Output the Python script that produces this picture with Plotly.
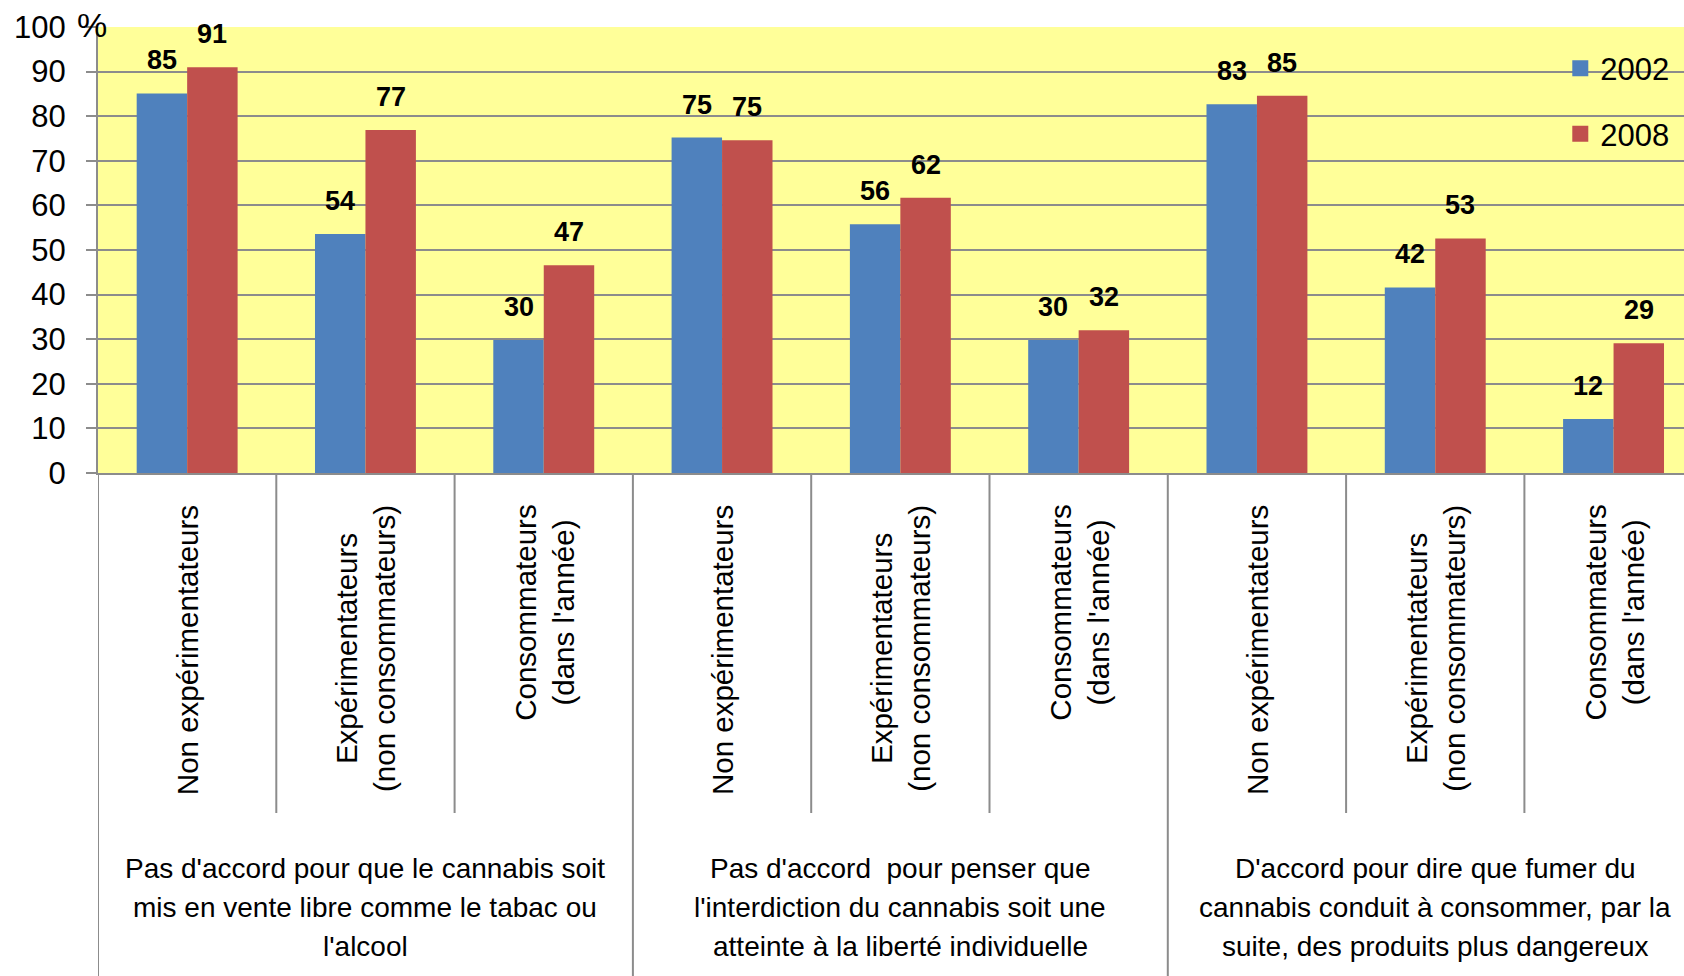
import plotly.graph_objects as go

categories = ["Non expérimentateurs",
              "Expérimentateurs<br>(non consommateurs)",
              "Consommateurs<br>(dans l'année)"] * 3
groups = [["Pas d'accord pour que le cannabis soit", "mis en vente libre comme le tabac ou", "l'alcool"],
          ["Pas d'accord  pour penser que", "l'interdiction du cannabis soit une", "atteinte à la liberté individuelle"],
          ["D'accord pour dire que fumer du", "cannabis conduit à consommer, par la", "suite, des produits plus dangereux"]]
series_names = ["2002", "2008"]
v2002 = [85.1, 53.6, 29.8, 75.2, 55.8, 29.8, 82.7, 41.6, 12.1]
v2008 = [91.0, 76.9, 46.6, 74.6, 61.7, 32.0, 84.6, 52.6, 29.1]
yticks = [0, 10, 20, 30, 40, 50, 60, 70, 80, 90, 100]

colors = ["#4F81BD", "#C0504D"]
FONT = "Liberation Sans, Arial, sans-serif"
GRID = "#8C8C8C"

W, H = 1684, 976
L, R, T, B = 98, 0, 27, 503
plot_h = H - T - B
cat_w = 178.3
x_idx = list(range(len(categories)))

fig = go.Figure()
for name, vals, col in zip(series_names, [v2002, v2008], colors):
    fig.add_trace(go.Bar(x=x_idx, y=vals, name=name, marker_color=col,
                         marker_line_width=0, showlegend=False))
# legend entries (larger square symbols)
for name, col, grp in zip(series_names, colors, ["a", "b"]):
    fig.add_trace(go.Scatter(x=[None], y=[None], mode="markers", name=name, legendgroup=grp,
                             marker=dict(symbol="square", size=18, color=col)))

bar_w = (1 - 0.434) / 2
shift = bar_w * cat_w / 2
annotations = []
for si, vals in enumerate([v2002, v2008]):
    for xi, v in zip(x_idx, vals):
        annotations.append(dict(x=xi, y=v, xref="x", yref="y", text=f"<b>{round(v)}</b>",
                                showarrow=False, yanchor="bottom", xanchor="center",
                                xshift=(-shift if si == 0 else shift), yshift=16,
                                font=dict(family=FONT, size=27, color="black")))

def py(px):  # pixel y (from top) -> paper y
    return (H - B - px) / plot_h

for xi, c in zip(x_idx, categories):
    annotations.append(dict(x=xi, y=py(503), xref="x", yref="paper", text=c,
                            showarrow=False, textangle=-90, yanchor="top", xanchor="center",
                            align="center", font=dict(family=FONT, size=29.5, color="black")))
for gi, lines in enumerate(groups):
    for li, line in enumerate(lines):
        annotations.append(dict(x=gi * 3 + 1, y=py(868 + li * 39.5), xref="x", yref="paper",
                                text=line, showarrow=False, yanchor="middle", xanchor="center",
                                font=dict(family=FONT, size=28, color="black")))
annotations.append(dict(x=0, y=py(25), xref="paper", yref="paper", text="%", showarrow=False,
                        xanchor="center", yanchor="middle", xshift=-6,
                        font=dict(family=FONT, size=34, color="black")))

shapes = []
for k in range(len(categories) + 1):
    b = k - 0.5
    long = (k % 3 == 0)
    shapes.append(dict(type="line", xref="x", yref="paper", x0=b, x1=b,
                       y0=0, y1=(py(H) if long else py(813)),
                       line=dict(color=GRID, width=2)))

fig.update_layout(
    width=W, height=H,
    margin=dict(l=L, r=R, t=T, b=B, autoexpand=False),
    paper_bgcolor="white", plot_bgcolor="#FFFF99",
    barmode="group", bargap=0.434, bargroupgap=0,
    font=dict(family=FONT, size=31, color="black"),
    showlegend=True,
    legend=dict(x=0.922, y=0.967, xanchor="left", yanchor="top", bgcolor="rgba(0,0,0,0)",
                font=dict(family=FONT, size=31, color="black"), tracegroupgap=22,
                itemwidth=30),
    annotations=annotations, shapes=shapes,
)
fig.update_xaxes(range=[-0.5, -0.5 + (W - L) / cat_w], showticklabels=False, ticks="",
                 showgrid=False, zeroline=False, showline=True, linecolor=GRID, linewidth=2)
fig.update_yaxes(range=[0, 100], tickvals=yticks, ticktext=[str(t) for t in yticks],
                 showgrid=True, gridcolor=GRID, gridwidth=2, zeroline=False,
                 showline=True, linecolor=GRID, linewidth=2, ticks="outside", ticklen=10,
                 tickcolor=GRID, tickwidth=2, ticklabelstandoff=14,
                 tickfont=dict(family=FONT, size=31, color="black"))

fig.write_html("out.html", config={"displayModeBar": False},
               post_script="document.body.style.margin='0';")
